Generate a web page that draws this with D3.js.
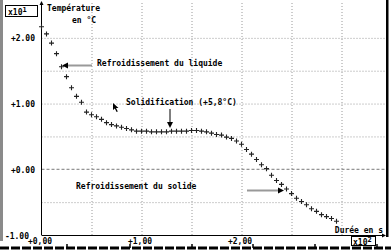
<!DOCTYPE html>
<html>
<head>
<meta charset="utf-8">
<script src="https://cdn.jsdelivr.net/npm/d3@7"></script>
<style>
    body { margin: 0; background: #fff; }
    text { font-family: "DejaVu Sans Mono", monospace; font-size: 8px; font-weight: bold; fill: #000; }
</style>
</head>
<body>
<svg id="chart" width="391" height="250"></svg>
<script>
// mesures (temps en s, temperature en °C)
const times = [0, 5, 10, 15, 20, 25, 30, 35, 40, 45, 50, 55, 60, 65, 70, 75, 80, 85, 90, 95,
    100, 105, 110, 115, 120, 125, 130, 135, 140, 145, 150, 155, 160, 165, 170, 175, 180, 185, 190, 195,
    200, 205, 210, 215, 220, 225, 230, 235, 240, 245, 250, 255, 260, 265, 270, 275, 280, 285, 290, 295];
const temps = [21.7, 20.6, 19.2, 17.6, 15.6, 14.1, 12.4, 11.1, 10.2, 8.7, 8.3, 8.0, 7.6, 7.1, 6.8, 6.6, 6.4, 6.2, 6.0, 5.8,
    5.8, 5.8, 5.7, 5.7, 5.7, 5.7, 5.8, 5.8, 5.8, 5.8, 5.9, 5.9, 5.8, 5.7, 5.5, 5.3, 5.2, 4.9, 4.7, 4.3,
    3.8, 3.0, 2.3, 1.5, 0.7, 0.1, -0.9, -1.7, -2.3, -3.0, -3.7, -4.4, -4.9, -5.4, -6.0, -6.4, -6.9, -7.2, -7.5, -7.9];

// ticks
const xTicks = [0, 100, 200];
const xTickLabels = ['+0,00', '+1,00', '+2,00'];
const yTicks = [-10, 0, 10, 20];
const yTickLabels = ['-1.00', '+0.00', '+1.00', '+2.00'];
const xGrid = [50, 100, 150, 200, 250, 300];
const yGrid = [-5, 5, 10, 15, 20];

const svg = d3.select('#chart');

const x = d3.scaleLinear().domain([0, 345]).range([41.5, 386.5]);
const y = d3.scaleLinear().domain([-10, 25]).range([235, 5]);

// cadre
svg.append('rect').attr('x', 0).attr('y', 0).attr('width', 3).attr('height', 241).attr('fill', '#8a8a8a');
svg.append('rect').attr('x', 386).attr('y', 0).attr('width', 2.5).attr('height', 237).attr('fill', '#000');

// grille
const gridX = svg.append('g')
    .attr('transform', `translate(0,235)`)
    .call(d3.axisBottom(x).tickValues(xGrid).tickSize(-233).tickFormat(''));
gridX.select('.domain').remove();
gridX.selectAll('line').attr('stroke', '#9a9a9a').attr('stroke-dasharray', '1,2');

const gridY = svg.append('g')
    .attr('transform', `translate(41.5,0)`)
    .call(d3.axisLeft(y).tickValues(yGrid).tickSize(-345).tickFormat(''));
gridY.select('.domain').remove();
gridY.selectAll('line').attr('stroke', '#9a9a9a').attr('stroke-dasharray', '1,2');

// ligne du zero
svg.append('line')
    .attr('x1', x(0)).attr('x2', 386).attr('y1', y(0)).attr('y2', y(0))
    .attr('stroke', '#777').attr('stroke-dasharray', '3,2');

// axes
svg.append('line').attr('x1', 41.5).attr('x2', 41.5).attr('y1', 3).attr('y2', 235).attr('stroke', '#000');
svg.append('path').attr('d', 'M41.5,1 L39.5,5 L43.5,5 Z').attr('fill', '#000');
svg.append('line').attr('x1', 41.5).attr('x2', 384).attr('y1', 235.5).attr('y2', 235.5).attr('stroke', '#000');
svg.append('path').attr('d', 'M386,235.5 L382,233.5 L382,237.5 Z').attr('fill', '#000');

// labels axe y
const yAxis = svg.append('g')
    .attr('transform', `translate(35,0)`)
    .call(d3.axisLeft(y).tickValues(yTicks).tickSize(0).tickPadding(0)
        .tickFormat((d, i) => yTickLabels[i]));
yAxis.select('.domain').remove();
yAxis.selectAll('text').attr('text-anchor', 'end').attr('dy', '0.35em')
    .style('font-family', '"DejaVu Sans Mono", monospace').style('font-size', '8px').style('font-weight', 'bold')
    .attr('x', (d) => d === -10 ? -6 : 0)
    .attr('y', (d) => d === -10 ? 1 : 0);

// labels axe x
const xAxis = svg.append('g')
    .attr('transform', `translate(-2,238)`)
    .call(d3.axisBottom(x).tickValues(xTicks).tickSize(0).tickPadding(0)
        .tickFormat((d, i) => xTickLabels[i]));
xAxis.select('.domain').remove();
xAxis.selectAll('text').attr('dy', '0.71em')
    .style('font-family', '"DejaVu Sans Mono", monospace').style('font-size', '8px').style('font-weight', 'bold');

// multiplicateurs
svg.append('rect').attr('x', 5.5).attr('y', 5.5).attr('width', 32).attr('height', 11)
    .attr('fill', '#fff').attr('stroke', '#000');
const m1 = svg.append('text').attr('x', 8).attr('y', 15);
m1.append('tspan').text('x10');
m1.append('tspan').attr('dy', -3).style('font-size', '7px').text('1');

svg.append('rect').attr('x', 351.5).attr('y', 236.5).attr('width', 24).attr('height', 9)
    .attr('fill', '#fff').attr('stroke', '#000');
const m2 = svg.append('text').attr('x', 353).attr('y', 245);
m2.append('tspan').text('x10');
m2.append('tspan').attr('dy', -3).style('font-size', '7px').text('2');

// titres d'axes
svg.append('text').attr('x', 47).attr('y', 11).text('Température');
svg.append('text').attr('x', 72).attr('y', 23).text('en °C');
svg.append('text').attr('x', 383).attr('y', 233).attr('text-anchor', 'end').text('Durée en s');

// points
svg.append('g').selectAll('path.pt')
    .data(times.map((t, i) => [t, temps[i]]))
    .join('path')
    .attr('class', 'pt')
    .attr('d', d => `M${x(d[0]) - 2.5},${y(d[1])}h5M${x(d[0])},${y(d[1]) - 2.5}v5`)
    .attr('stroke', '#222')
    .attr('stroke-width', 1.1);

// annotations
svg.append('text').attr('x', 97).attr('y', 66).text('Refroidissement du liquide');
svg.append('line').attr('x1', 67).attr('x2', 92).attr('y1', 65.5).attr('y2', 65.5)
    .attr('stroke', '#999').attr('stroke-width', 2);
svg.append('path').attr('d', 'M62,65.5 L68,62.5 L68,68.5 Z').attr('fill', '#000');

svg.append('text').attr('x', 126).attr('y', 105).text('Solidification (+5,8°C)');
svg.append('line').attr('x1', 170).attr('x2', 170).attr('y1', 109).attr('y2', 123)
    .attr('stroke', '#000').attr('stroke-width', 1);
svg.append('path').attr('d', 'M170,128 L167,122 L173,122 Z').attr('fill', '#000');

// curseur souris
svg.append('path')
    .attr('d', 'M113,103 L113,110 L114.8,108.4 L116.6,112 L117.8,111.4 L116,108 L118.5,108 Z')
    .attr('fill', '#000');

svg.append('text').attr('x', 76).attr('y', 189).text('Refroidissement du solide');
svg.append('line').attr('x1', 247).attr('x2', 279).attr('y1', 190.5).attr('y2', 190.5)
    .attr('stroke', '#999').attr('stroke-width', 2);
svg.append('path').attr('d', 'M284,190.5 L278,187.5 L278,193.5 Z').attr('fill', '#000');

// regle du bas
svg.append('line').attr('x1', 0).attr('x2', 391).attr('y1', 248).attr('y2', 248)
    .attr('stroke', '#000').attr('stroke-width', 3).attr('stroke-dasharray', '9,2');
svg.append('g').selectAll('line')
    .data([67, 130, 192, 253, 315, 377])
    .join('line')
    .attr('x1', d => d).attr('x2', d => d).attr('y1', 244).attr('y2', 248)
    .attr('stroke', '#000').attr('stroke-width', 1.5);
</script>
</body>
</html>
